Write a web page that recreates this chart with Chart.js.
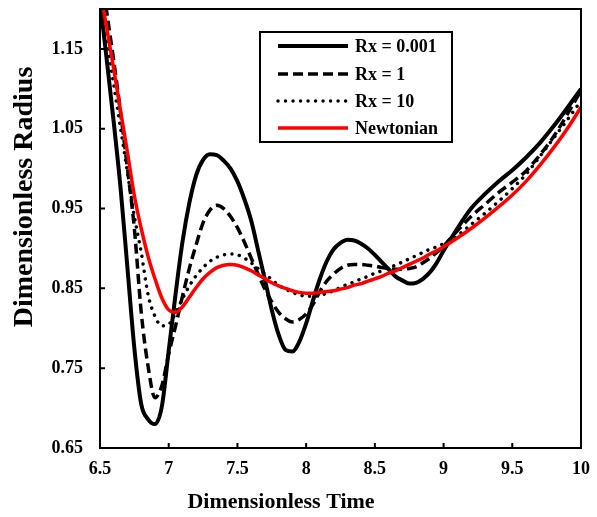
<!DOCTYPE html>
<html>
<head>
<meta charset="utf-8">
<script src="https://cdn.jsdelivr.net/npm/chart.js@4.4.1/dist/chart.umd.min.js"></script>
<style>
  html, body { margin: 0; padding: 0; background: #fff; }
  #wrap { width: 597px; height: 517px; }
</style>
</head>
<body>
<div id="wrap"><canvas id="radiusChart" width="597" height="517"></canvas></div>
<script>
var timeValues = [6.5, 6.55, 6.6, 6.65, 6.7, 6.75, 6.8, 6.85, 6.9, 6.95,
                  7.0, 7.05, 7.1, 7.15, 7.2, 7.25, 7.3, 7.35, 7.4, 7.45,
                  7.5, 7.55, 7.6, 7.65, 7.7, 7.75, 7.8, 7.85, 7.9, 7.95,
                  8.0, 8.05, 8.1, 8.15, 8.2, 8.25, 8.3, 8.35, 8.4, 8.45,
                  8.5, 8.55, 8.6, 8.65, 8.7, 8.75, 8.8, 8.85, 8.9, 8.95,
                  9.0, 9.1, 9.2, 9.3, 9.4, 9.5, 9.6, 9.7, 9.8, 9.9, 10.0];

var rxSmall = [1.21, 1.135, 1.058, 0.975, 0.875, 0.775, 0.705, 0.686, 0.680, 0.702,
               0.772, 0.843, 0.908, 0.957, 0.992, 1.011, 1.018, 1.017, 1.010, 1.000,
               0.984, 0.962, 0.935, 0.898, 0.861, 0.823, 0.792, 0.773, 0.771, 0.783,
               0.806, 0.835, 0.862, 0.884, 0.899, 0.907, 0.911, 0.910, 0.906, 0.900,
               0.892, 0.883, 0.874, 0.865, 0.860, 0.856, 0.857, 0.862, 0.870, 0.882,
               0.897, 0.925, 0.950, 0.968, 0.984, 0.998, 1.014, 1.032, 1.053, 1.076, 1.100];

var rxOne = [1.26, 1.195, 1.135, 1.07, 1.00, 0.925, 0.82, 0.752, 0.713, 0.728,
             0.768, 0.803, 0.840, 0.875, 0.905, 0.932, 0.948, 0.954, 0.950, 0.940,
             0.926, 0.908, 0.888, 0.868, 0.849, 0.833, 0.820, 0.812, 0.808, 0.811,
             0.818, 0.830, 0.846, 0.859, 0.868, 0.875, 0.879, 0.880, 0.880, 0.879,
             0.878, 0.876, 0.875, 0.874, 0.874, 0.875, 0.877, 0.882, 0.888, 0.895,
             0.903, 0.922, 0.940, 0.955, 0.970, 0.983, 0.997, 1.017, 1.040, 1.068, 1.098];

var rxTen = [1.215, 1.16, 1.105, 1.05, 0.995, 0.94, 0.895, 0.842, 0.815, 0.803,
             0.805, 0.819, 0.837, 0.853, 0.866, 0.876, 0.884, 0.889, 0.892, 0.893,
             0.892, 0.888, 0.882, 0.875, 0.868, 0.861, 0.854, 0.849, 0.845, 0.842,
             0.840, 0.840, 0.841, 0.844, 0.847, 0.851, 0.855, 0.858, 0.862, 0.865,
             0.869, 0.872, 0.876, 0.879, 0.883, 0.887, 0.891, 0.895, 0.899, 0.902,
             0.906, 0.916, 0.930, 0.944, 0.959, 0.975, 0.993, 1.015, 1.038, 1.061, 1.085];

var newtonian = [1.225, 1.175, 1.125, 1.072, 1.020, 0.966, 0.925, 0.890, 0.862, 0.838,
                 0.823, 0.820, 0.827, 0.839, 0.851, 0.862, 0.870, 0.876, 0.879, 0.880,
                 0.879, 0.876, 0.872, 0.867, 0.862, 0.857, 0.853, 0.850, 0.847, 0.845,
                 0.844, 0.844, 0.845, 0.846, 0.847, 0.849, 0.851, 0.854, 0.856, 0.859,
                 0.862, 0.865, 0.869, 0.872, 0.876, 0.880, 0.884, 0.888, 0.893, 0.897,
                 0.902, 0.913, 0.925, 0.938, 0.952, 0.967, 0.984, 1.004, 1.026, 1.050, 1.077];

var seriesNames = ['Rx = 0.001', 'Rx = 1', 'Rx = 10', 'Newtonian'];
var xTicks = [6.5, 7, 7.5, 8, 8.5, 9, 9.5, 10];
var yTicks = [0.65, 0.75, 0.85, 0.95, 1.05, 1.15];
var xTitle = 'Dimensionless Time';
var yTitle = 'Dimensionless Radius';

var serif = '"Liberation Serif", "Times New Roman", serif';

function toPoints(values){
    return timeValues.map((t, i) => ({x: t, y: values[i]}));
}

// frame, inward ticks, legend box and axis titles
var framePlugin = {
    id: 'frame',
    afterDatasetsDraw(chart){
        var ctx = chart.ctx;
        var area = chart.chartArea;
        var xs = chart.scales.x, ys = chart.scales.y;
        ctx.save();
        ctx.strokeStyle = '#000';
        ctx.lineWidth = 2;
        ctx.strokeRect(area.left, area.top, area.right - area.left, area.bottom - area.top);

        ctx.beginPath();
        xTicks.forEach(v => {
            if(v > xs.min && v < xs.max){
                var px = xs.getPixelForValue(v);
                ctx.moveTo(px, area.bottom);
                ctx.lineTo(px, area.bottom - 5);
            }
        });
        yTicks.forEach(v => {
            if(v > ys.min && v < ys.max){
                var py = ys.getPixelForValue(v);
                ctx.moveTo(area.left, py);
                ctx.lineTo(area.left + 5, py);
            }
        });
        ctx.stroke();

        // legend
        var bx = 260, by = 32, bw = 192, bh = 110;
        ctx.fillStyle = '#fff';
        ctx.fillRect(bx, by, bw, bh);
        ctx.lineWidth = 2;
        ctx.strokeRect(bx, by, bw, bh);
        var rows = [46, 74, 101, 128];
        chart.data.datasets.forEach((ds, i) => {
            ctx.save();
            ctx.strokeStyle = ds.borderColor;
            ctx.lineWidth = ds.borderWidth;
            ctx.lineCap = ds.borderCapStyle || 'butt';
            ctx.setLineDash(ds.borderDash || []);
            ctx.beginPath();
            ctx.moveTo(278, rows[i]);
            ctx.lineTo(348, rows[i]);
            ctx.stroke();
            ctx.restore();
            ctx.fillStyle = '#000';
            ctx.font = 'bold 18px ' + serif;
            ctx.textAlign = 'left';
            ctx.textBaseline = 'middle';
            ctx.fillText(ds.label, 355, rows[i] + 1);
        });

        // axis titles
        ctx.fillStyle = '#000';
        ctx.textAlign = 'center';
        ctx.textBaseline = 'middle';
        ctx.font = 'bold 22px ' + serif;
        ctx.fillText(xTitle, 281, 502);
        ctx.translate(25, 197);
        ctx.rotate(-Math.PI / 2);
        ctx.font = 'bold 28px ' + serif;
        ctx.fillText(yTitle, 0, 0);
        ctx.restore();
    }
};

var chart = new Chart(document.getElementById('radiusChart'), {
    type: 'line',
    data: {
        datasets: [{
            label: seriesNames[0],
            data: toPoints(rxSmall),
            borderColor: '#000',
            borderWidth: 4,
            order: 3
        }, {
            label: seriesNames[1],
            data: toPoints(rxOne),
            borderColor: '#000',
            borderWidth: 3.5,
            borderDash: [10, 5],
            order: 2
        }, {
            label: seriesNames[2],
            data: toPoints(rxTen),
            borderColor: '#000',
            borderWidth: 3.5,
            borderDash: [0.01, 7.5],
            borderCapStyle: 'round',
            order: 1
        }, {
            label: seriesNames[3],
            data: toPoints(newtonian),
            borderColor: '#ff0000',
            borderWidth: 3.5,
            order: 0
        }]
    },
    options: {
        responsive: false,
        animation: false,
        events: [],
        layout: { padding: { top: 9, right: 16, left: 0, bottom: 0 } },
        elements: {
            point: { radius: 0 },
            line: { cubicInterpolationMode: 'monotone', fill: false }
        },
        plugins: {
            legend: { display: false },
            tooltip: { enabled: false }
        },
        scales: {
            x: {
                type: 'linear',
                min: 6.5,
                max: 10,
                afterBuildTicks: scale => { scale.ticks = xTicks.map(v => ({value: v})); },
                afterFit: scale => {
                    scale.height = 69;
                    scale.paddingLeft = 0;
                    scale.paddingRight = 0;
                },
                grid: { display: false, drawTicks: false },
                border: { display: false },
                ticks: {
                    padding: 11,
                    color: '#000',
                    font: { family: serif, size: 18, weight: 'bold' },
                    maxRotation: 0,
                    callback: v => String(v)
                }
            },
            y: {
                type: 'linear',
                min: 0.65,
                max: 1.2,
                afterBuildTicks: scale => { scale.ticks = yTicks.map(v => ({value: v})); },
                afterFit: scale => {
                    scale.width = 100;
                    scale.paddingTop = 0;
                    scale.paddingBottom = 0;
                },
                grid: { display: false, drawTicks: false },
                border: { display: false },
                ticks: {
                    padding: 17,
                    color: '#000',
                    font: { family: serif, size: 18, weight: 'bold' },
                    callback: v => String(v)
                }
            }
        }
    },
    plugins: [framePlugin]
});
</script>
</body>
</html>
